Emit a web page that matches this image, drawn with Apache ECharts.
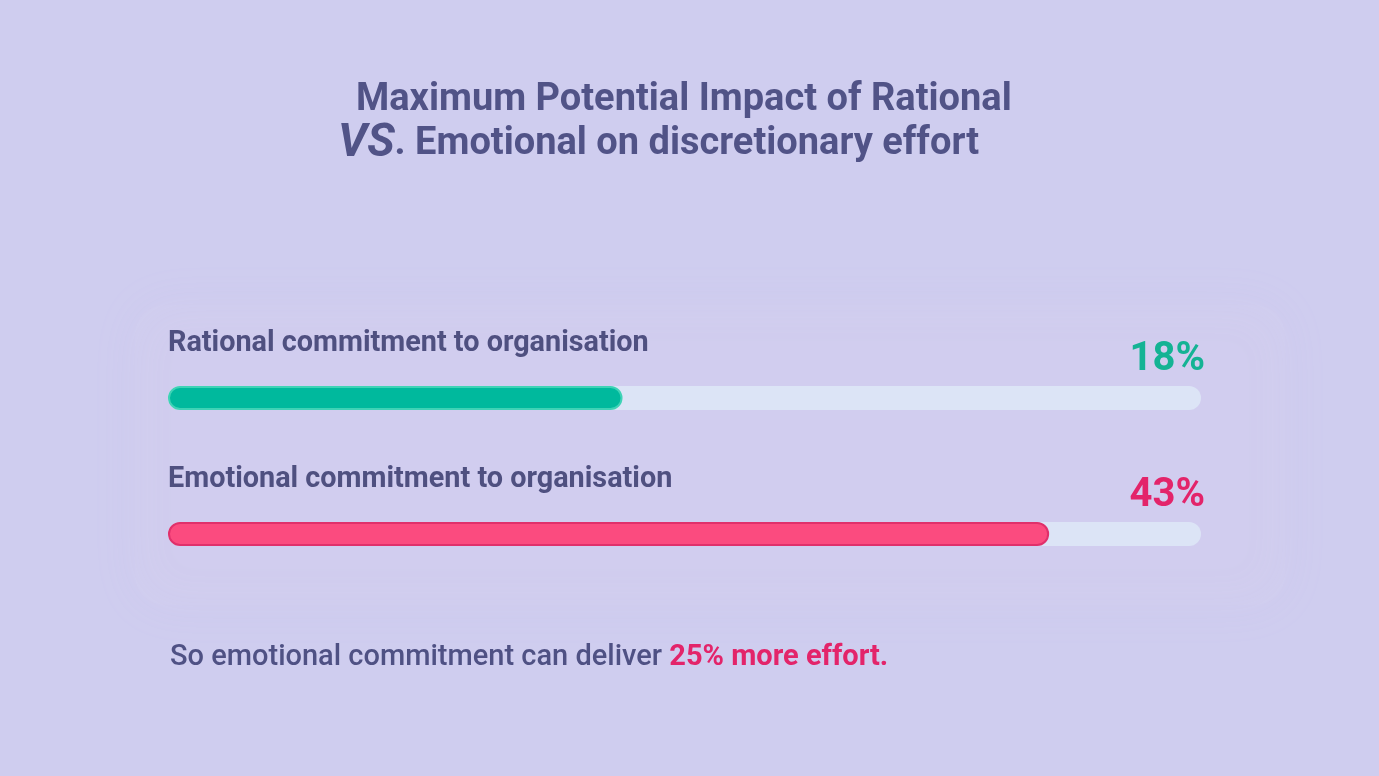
<!DOCTYPE html>
<html>
<head>
<meta charset="utf-8">
<script src="https://cdn.jsdelivr.net/npm/echarts@6/dist/echarts.min.js"></script>
<style>
    html, body {margin: 0; padding: 0; background: #cfcdef;}
    #chart_1 {width: 1379px; height: 776px;}
</style>
</head>
<body>
<div id="chart_1"></div>
<script>
// rows, top to bottom
var categories = ['Rational commitment to organisation', 'Emotional commitment to organisation'];
// bar fill length as drawn (share of the track, 0-100)
var barLengths = [44, 85.3];
// value printed on each row
var percentLabels = ['18%', '43%'];
var barColors = ['#00b99d', '#fb4b7f'];
var barBorders = ['#3fd3b6', '#e0306b'];
var labelColors = ['#14b394', '#e3246a'];

var textFont = 'Roboto';

var myChart = echarts.init(document.getElementById('chart_1'));
var option = {
    backgroundColor: '#cfcdef',
    animation: false,
    title: [
        {
            text: 'Maximum Potential Impact of Rational',
            left: 351,
            top: 76,
            textStyle: {fontFamily: textFont, fontSize: 38, fontWeight: 'bold', color: '#515387'}
        },
        {
            text: '{vs|VS}. Emotional on discretionary effort',
            left: 333,
            top: 116,
            textStyle: {
                fontFamily: textFont, fontSize: 38, fontWeight: 'bold', color: '#515387',
                rich: {
                    vs: {fontFamily: textFont, fontSize: 46, fontWeight: 'bold', fontStyle: 'italic', color: '#515387'}
                }
            }
        },
        {
            text: 'So emotional commitment can deliver {hl|25% more effort.}',
            left: 165,
            top: 638,
            textStyle: {
                fontFamily: textFont, fontSize: 29, fontWeight: 500, color: '#4f5184',
                rich: {
                    hl: {fontFamily: textFont, fontSize: 29, fontWeight: 'bold', color: '#e3246a'}
                }
            }
        }
    ],
    graphic: [
        {
            type: 'rect',
            shape: {x: 135, y: 305, width: 1150, height: 300, r: 30},
            style: {fill: 'rgba(214,208,240,0.22)', shadowBlur: 50, shadowColor: 'rgba(232,200,240,0.3)'},
            z: -10
        }
    ],
    grid: {left: 168, right: 178, top: 330, bottom: 174},
    xAxis: {
        type: 'value',
        min: 0,
        max: 100,
        show: false
    },
    yAxis: {
        type: 'category',
        data: categories,
        inverse: true,
        show: false
    },
    series: [
        {
            // track, carries the percent label
            type: 'bar',
            barWidth: 24,
            silent: true,
            data: categories.map(function (c, i) {
                return {
                    value: 100,
                    label: {
                        show: true,
                        position: ['100%', -46],
                        offset: [4, 0],
                        align: 'right',
                        formatter: percentLabels[i],
                        fontFamily: textFont,
                        fontSize: 40,
                        fontWeight: 'bold',
                        color: labelColors[i]
                    }
                };
            }),
            itemStyle: {color: '#dce4f6', borderRadius: 12}
        },
        {
            type: 'bar',
            barWidth: 24,
            barGap: '-100%',
            data: barLengths.map(function (v, i) {
                return {
                    value: v,
                    itemStyle: {color: barColors[i], borderColor: barBorders[i], borderWidth: 2, borderRadius: 12},
                    label: {
                        show: true,
                        position: [0, -57],
                        align: 'left',
                        formatter: categories[i],
                        fontFamily: textFont,
                        fontSize: 28.8,
                        fontWeight: 'bold',
                        color: '#4f5080'
                    }
                };
            })
        }
    ]
};

myChart.setOption(option);
</script>
</body>
</html>
